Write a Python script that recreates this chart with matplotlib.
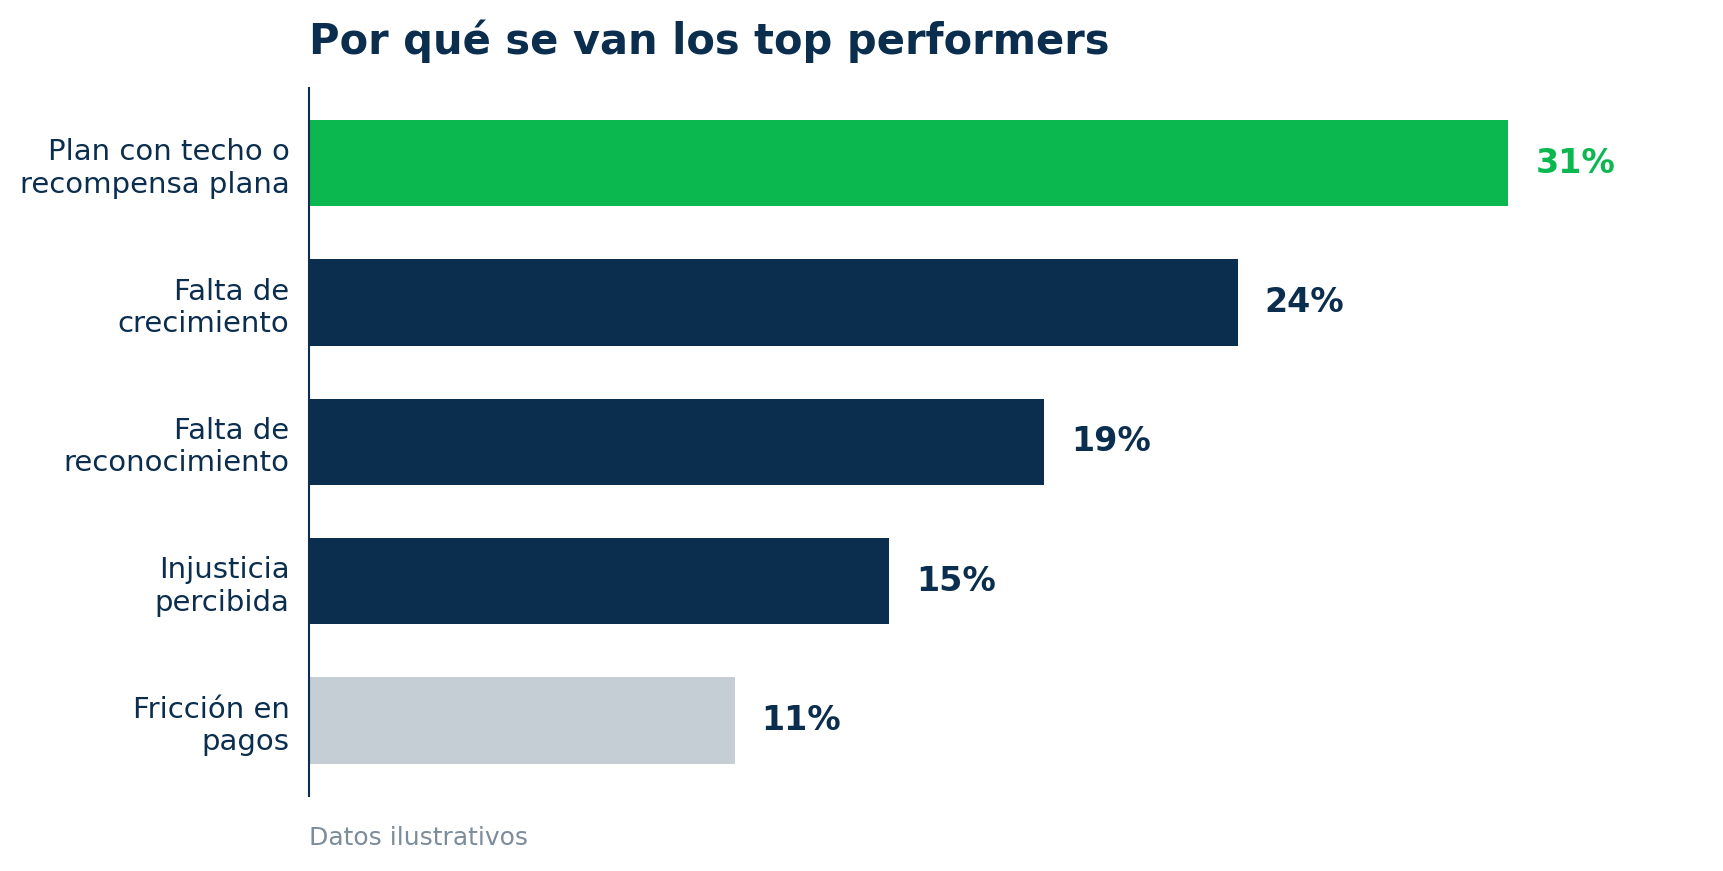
import matplotlib.pyplot as plt

# Data
categories = ['Plan con techo o\nrecompensa plana', 'Falta de\ncrecimiento',
              'Falta de\nreconocimiento', 'Injusticia\npercibida', 'Fricción en\npagos']
values = [31, 24, 19, 15, 11]
labels = ['31%', '24%', '19%', '15%', '11%']

navy = '#0b2e4f'
green = '#0ab84f'
grey = '#c5cdd5'
colors = [green, navy, navy, navy, grey]
label_colors = [green, navy, navy, navy, navy]

fig = plt.figure(figsize=(17.24, 8.71), dpi=100)
ax = fig.add_axes([0.1792, 0.0861, 0.7855, 0.813])

ypos = list(range(len(categories)))
ax.barh(ypos, values, height=0.62, color=colors)
ax.invert_yaxis()
ax.set_xlim(0, 35)

for y, v, lab, c in zip(ypos, values, labels, label_colors):
    ax.annotate(lab, (v, y), xytext=(19.5, 0), textcoords='offset points',
                ha='left', va='center', fontsize=24, fontweight='bold', color=c)

ax.set_yticks(ypos)
ax.set_yticklabels(categories, fontsize=21, color=navy)
ax.tick_params(axis='y', length=0, pad=14)
ax.set_xticks([])
for s in ['top', 'right', 'bottom']:
    ax.spines[s].set_visible(False)
ax.spines['left'].set_color(navy)
ax.spines['left'].set_linewidth(1.5)

fig.text(0.1792, 0.953, 'Por qué se van los top performers', fontsize=30,
         fontweight='bold', color=navy, ha='left', va='center')
fig.text(0.1792, 0.038, 'Datos ilustrativos', fontsize=18, color='#7c8c9b',
         ha='left', va='center')

fig.savefig('out.png', dpi=100)
